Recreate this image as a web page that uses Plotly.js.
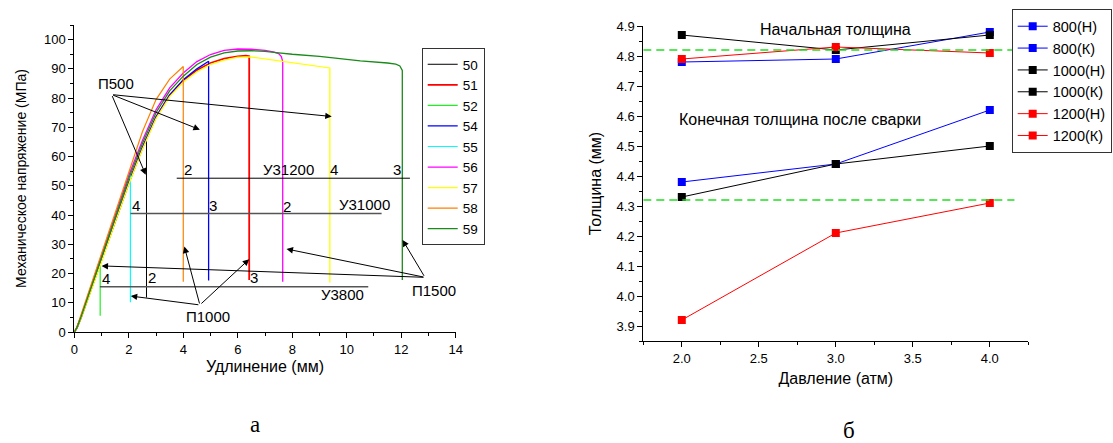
<!DOCTYPE html>
<html>
<head>
<meta charset="utf-8">
<script src="https://cdn.plot.ly/plotly-3.0.1.min.js"></script>
<style>html,body{margin:0;padding:0;background:#fff;}#chart{width:1113px;height:443px;}</style>
</head>
<body>
<div id="chart"></div>
<script>
// ---------- Chart (a): stress-strain curves ----------
const names = ['50', '51', '52', '54', '55', '56', '57', '58', '59'];
const colors = ['#000000', '#ff0000', '#22ee22', '#0000ff', '#00ffff', '#ff00ff', '#ffff00', '#ff8000', '#1a8a1a'];
const widths = [1, 1.8, 1.2, 1.3, 1.2, 1.3, 1.3, 1.2, 1.3];

const s50x = [0, 0.1, 0.25, 0.5, 1, 1.5, 2, 2.5, 2.65, 2.65];
const s50y = [0, 1.5, 5, 11.5, 24.5, 38, 51, 63, 66.3, 11.8];
const s51x = [0, 0.1, 0.25, 0.5, 1, 1.5, 2, 2.5, 3, 3.5, 4, 4.5, 5, 5.5, 6, 6.3, 6.42, 6.42];
const s51y = [0, 1.5, 5, 11.5, 24.5, 38, 51, 63, 73.5, 81, 86, 89.5, 92, 93.5, 94.3, 94.5, 94.3, 17.8];
const s52x = [0, 0.1, 0.25, 0.5, 0.95, 0.95];
const s52y = [0, 1.5, 5, 11.5, 23.6, 5.6];
const s54x = [0, 0.1, 0.25, 0.5, 1, 1.5, 2, 2.5, 3, 3.5, 4, 4.5, 4.93, 4.93];
const s54y = [0, 1.5, 5, 11.5, 24.5, 38, 51, 63, 73.5, 81, 86.3, 90, 92.6, 17.6];
const s55x = [0, 0.1, 0.25, 0.5, 1, 1.5, 2, 2.06, 2.06];
const s55y = [0, 1.6, 5.3, 12.2, 26, 40.5, 54, 55.5, 10.2];
const s56x = [0, 0.1, 0.25, 0.5, 1, 1.5, 2, 2.5, 3, 3.5, 4, 4.5, 5, 5.5, 6, 6.5, 7, 7.3, 7.5, 7.6, 7.65, 7.65];
const s56y = [0, 1.6, 5.5, 12.5, 26, 40, 53.5, 65.5, 76, 83.5, 88.6, 92.5, 94.9, 96.3, 96.8, 96.7, 96.3, 95.8, 95.2, 94.2, 92.5, 17.2];
const s57x = [0, 0.1, 0.25, 0.5, 1, 1.5, 2, 2.5, 3, 3.5, 4, 4.5, 5, 5.5, 6, 6.45, 7, 7.55, 8.28, 9, 9.38, 9.38];
const s57y = [0, 1.4, 4.8, 11, 24, 37.5, 50.5, 62.5, 73, 80.5, 85.5, 89, 91.5, 93, 94, 94.1, 93.4, 92.6, 91.8, 91, 90.3, 16.9];
const s58x = [0, 0.1, 0.25, 0.5, 1, 1.5, 2, 2.5, 3, 3.5, 4, 4];
const s58y = [0, 1.8, 6, 13, 27, 41, 55, 68.5, 79.5, 86.5, 90.8, 17.2];
const s59x = [0, 0.1, 0.25, 0.5, 1, 1.5, 2, 2.5, 3, 3.5, 4, 4.5, 5, 5.5, 6, 6.5, 7, 7.5, 8, 9, 9.75, 10.5, 11.5, 11.8, 11.95, 12.04, 12.04];
const s59y = [0, 1.5, 5.2, 12, 25.5, 39, 52.5, 64.5, 75, 82.5, 87.5, 91.5, 94, 95.5, 96.1, 96.2, 96, 95.5, 95, 94.3, 93.4, 92.7, 92, 91.6, 91, 89.5, 17.8];
const curvesX = [s50x, s51x, s52x, s54x, s55x, s56x, s57x, s58x, s59x];
const curvesY = [s50y, s51y, s52y, s54y, s55y, s56y, s57y, s58y, s59y];

// reference lines (У3 groups) in data units
const refNames = ['У31200', 'У31000', 'У3800'];
const refY = [52.6, 40.5, 15.5];
const refX0 = [3.76, 2.06, 0.94];
const refX1 = [12.32, 11.28, 10.79];
const refColor = ['#000000', '#555555', '#555555'];

// text labels (a)
const labTxt = ['2', 'У31200', '4', '3', '4', '3', '2', 'У31000', '4', '2', '3', 'У3800', 'П500', 'П1000', 'П1500'];
const labX = [4.19, 7.88, 9.55, 11.84, 2.26, 5.1, 7.82, 10.67, 1.17, 2.85, 6.6, 9.86, 1.52, 4.9, 13.19];
const labY = [55.5, 55.6, 55.5, 55.5, 43.2, 43.2, 42.8, 43.5, 18.4, 18.5, 18.8, 12.8, 84.9, 5.4, 14.3];

// arrows (a): tail -> head
const arrTailX = [1.37, 1.37, 1.37, 4.61, 4.61, 4.61, 12.87, 12.87, 12.87];
const arrTailY = [81.2, 81.2, 81.2, 9.25, 9.25, 9.25, 18.7, 18.7, 18.7];
const arrHeadX = [2.62, 4.61, 9.45, 2.07, 4.04, 6.42, 12.05, 7.79, 1.0];
const arrHeadY = [53.8, 69.2, 73.7, 12.3, 29.2, 24.9, 31.5, 28.4, 22.6];

// ---------- Chart (б): thickness vs pressure ----------
const pressure = [2, 3, 4];
const bNames = ['800(Н)', '800(К)', '1000(Н)', '1000(К)', '1200(Н)', '1200(К)'];
const bColors = ['#0000ff', '#0000ff', '#000000', '#000000', '#ff0000', '#ff0000'];
const t800N = [4.78, 4.79, 4.88];
const t800K = [4.38, 4.44, 4.62];
const t1000N = [4.87, 4.82, 4.87];
const t1000K = [4.33, 4.44, 4.50];
const t1200N = [4.79, 4.83, 4.81];
const t1200K = [3.92, 4.21, 4.31];
const bSeries = [t800N, t800K, t1000N, t1000K, t1200N, t1200K];
const thickRef = [4.82, 4.32];
const thickRefX = [1.75, 4.16];
const bLabTxt = ['Начальная толщина', 'Конечная толщина после сварки'];
const bLabX = [3.0, 2.765];
const bLabY = [4.887, 4.587];

// ---------- build ----------
const FONT = 'Liberation Sans, Arial, sans-serif';
const traces = [];
names.forEach((n, i) => {
  traces.push({
    x: curvesX[i], y: curvesY[i], name: n, type: 'scatter', mode: 'lines',
    line: {color: colors[i], width: widths[i]}, xaxis: 'x', yaxis: 'y', legend: 'legend'
  });
});
bNames.forEach((n, i) => {
  traces.push({
    x: pressure, y: bSeries[i], name: n, type: 'scatter', mode: 'lines+markers',
    line: {color: bColors[i], width: 1}, marker: {symbol: 'square', size: 8, color: bColors[i]},
    xaxis: 'x2', yaxis: 'y2', legend: 'legend2'
  });
});

const shapes = [];
refY.forEach((y, i) => {
  shapes.push({type: 'line', xref: 'x', yref: 'y', x0: refX0[i], x1: refX1[i], y0: y, y1: y,
    line: {color: refColor[i], width: i === 0 ? 1 : 1.5}});
});
thickRef.forEach(y => {
  shapes.push({type: 'line', xref: 'x2', yref: 'y2', x0: thickRefX[0], x1: thickRefX[1], y0: y, y1: y,
    line: {color: '#22dd22', width: 1.6, dash: '8px,5px'}});
});

const annotations = [];
labTxt.forEach((t, i) => {
  annotations.push({xref: 'x', yref: 'y', x: labX[i], y: labY[i], text: t, showarrow: false,
    xanchor: 'center', yanchor: 'middle', font: {size: 15, family: FONT, color: '#000'}});
});
arrHeadX.forEach((hx, i) => {
  annotations.push({xref: 'x', yref: 'y', axref: 'x', ayref: 'y', x: hx, y: arrHeadY[i],
    ax: arrTailX[i], ay: arrTailY[i], text: '', showarrow: true, arrowhead: 2, arrowsize: 1.3,
    arrowwidth: 1, arrowcolor: '#000', standoff: 0, startstandoff: 0});
});
bLabTxt.forEach((t, i) => {
  annotations.push({xref: 'x2', yref: 'y2', x: bLabX[i], y: bLabY[i], text: t, showarrow: false,
    xanchor: 'center', yanchor: 'middle', font: {size: 16, family: FONT, color: '#000'}});
});
annotations.push({xref: 'paper', yref: 'paper', x: 255 / 1113, y: 1 - 424 / 443, text: 'а', showarrow: false,
  xanchor: 'center', yanchor: 'middle', font: {size: 23, family: 'Liberation Serif, Times New Roman, serif', color: '#000'}});
annotations.push({xref: 'paper', yref: 'paper', x: 849 / 1113, y: 1 - 430 / 443, text: 'б', showarrow: false,
  xanchor: 'center', yanchor: 'middle', font: {size: 23, family: 'Liberation Serif, Times New Roman, serif', color: '#000'}});

const axBase = {
  showline: true, linecolor: '#000', linewidth: 1, showgrid: false, zeroline: false,
  ticks: 'outside', ticklen: 5, tickwidth: 1, tickcolor: '#000',
  tickfont: {size: 13, family: FONT, color: '#000'}, automargin: false
};

const layout = {
  width: 1113, height: 443,
  margin: {l: 0, r: 0, t: 0, b: 0, autoexpand: false},
  paper_bgcolor: '#fff', plot_bgcolor: 'rgba(0,0,0,0)',
  font: {family: FONT, size: 13, color: '#000'},
  showlegend: true,
  xaxis: Object.assign({}, axBase, {
    domain: [74.3 / 1113, 455.7 / 1113], range: [0, 14], tick0: 0, dtick: 2, anchor: 'y',
    minor: {dtick: 1, ticklen: 3, ticks: 'outside', tickcolor: '#000'},
    title: {text: 'Удлинение (мм)', font: {size: 16, family: FONT}, standoff: 5}
  }),
  yaxis: Object.assign({}, axBase, {
    domain: [1 - 332 / 443, 1 - 25 / 443], range: [0, 105], tick0: 0, dtick: 10, anchor: 'x',
    minor: {dtick: 5, ticklen: 3, ticks: 'outside', tickcolor: '#000'},
    title: {text: 'Механическое напряжение (МПа)', font: {size: 14, family: FONT}, standoff: 14}
  }),
  xaxis2: Object.assign({}, axBase, {
    domain: [643.3 / 1113, 1028.3 / 1113], range: [1.75, 4.25], tick0: 0, dtick: 0.5, tickformat: '.1f', anchor: 'y2',
    minor: {dtick: 0.25, ticklen: 3, ticks: 'outside', tickcolor: '#000'},
    title: {text: 'Давление (атм)', font: {size: 16, family: FONT}, standoff: 8}
  }),
  yaxis2: Object.assign({}, axBase, {
    domain: [1 - 341 / 443, 1 - 26 / 443], range: [3.85, 4.9], tick0: 0, dtick: 0.1, tickformat: '.1f', anchor: 'x2',
    minor: {dtick: 0.05, ticklen: 3, ticks: 'outside', tickcolor: '#000'},
    title: {text: 'Толщина (мм)', font: {size: 16, family: FONT}, standoff: 11}
  }),
  legend: {x: 421.7 / 1113, y: 1 - 48 / 443, xanchor: 'left', yanchor: 'top',
    bordercolor: '#333', borderwidth: 1, bgcolor: '#fff', font: {size: 13.5, family: FONT, color: '#000'},
    tracegroupgap: 0, itemwidth: 30},
  legend2: {x: 1011.7 / 1113, y: 1 - 9.3 / 443, xanchor: 'left', yanchor: 'top',
    bordercolor: '#333', borderwidth: 1, bgcolor: '#fff', font: {size: 14.5, family: FONT, color: '#000'},
    tracegroupgap: 0, itemwidth: 30},
  shapes: shapes,
  annotations: annotations
};

Plotly.newPlot('chart', traces, layout, {displayModeBar: false, staticPlot: true});
</script>
</body>
</html>
